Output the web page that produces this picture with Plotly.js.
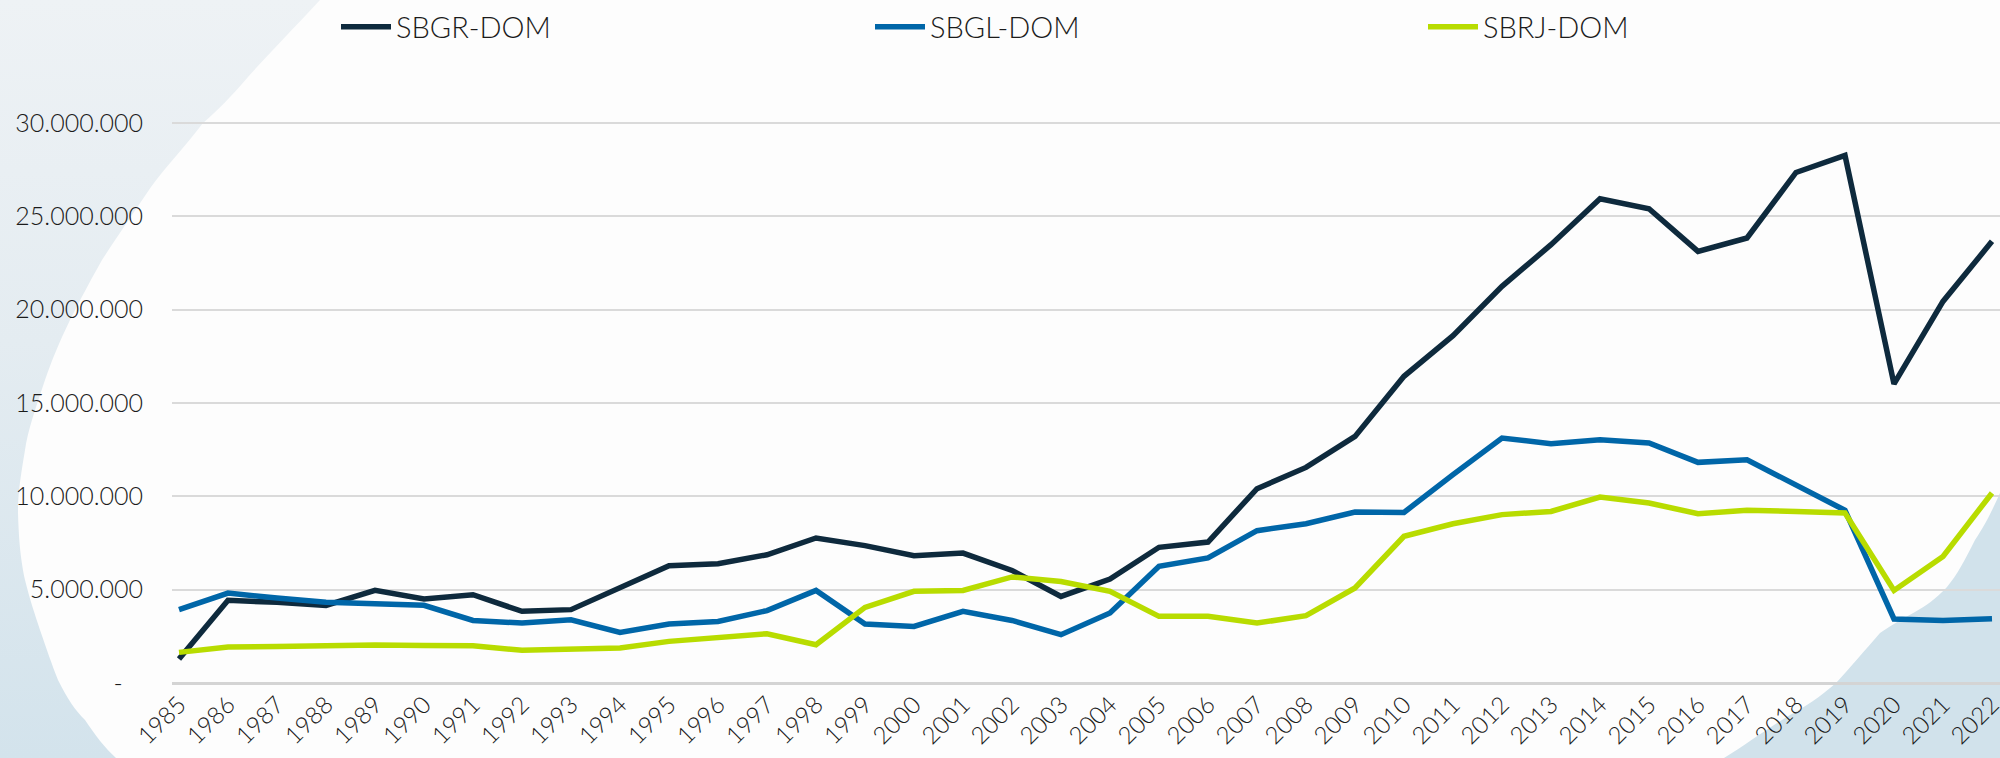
<!DOCTYPE html>
<html>
<head>
<meta charset="utf-8">
<script src="https://cdn.plot.ly/plotly-3.0.1.min.js"></script>
<style>
html,body{margin:0;padding:0;background:#fdfdfd;}
#chart{width:2000px;height:758px;}
</style>
</head>
<body>
<div id="chart"></div>
<script>
// ---- data ----
const years = [1985,1986,1987,1988,1989,1990,1991,1992,1993,1994,1995,1996,1997,1998,1999,2000,2001,2002,2003,2004,2005,2006,2007,2008,2009,2010,2011,2012,2013,2014,2015,2016,2017,2018,2019,2020,2021,2022];
const yearLabels = years.map(String);
const seriesNames = ['SBGR-DOM','SBGL-DOM','SBRJ-DOM'];
const sbgr = [1290000,4430000,4320000,4160000,4960000,4500000,4730000,3840000,3930000,5090000,6280000,6390000,6870000,7770000,7360000,6820000,6960000,6030000,4640000,5570000,7270000,7550000,10410000,11550000,13210000,16430000,18610000,21250000,23480000,25940000,25410000,23120000,23840000,27350000,28260000,16020000,20440000,23660000];
const sbgl = [3930000,4820000,4550000,4320000,4250000,4160000,3350000,3210000,3390000,2710000,3160000,3300000,3880000,4960000,3160000,3030000,3840000,3350000,2590000,3750000,6250000,6700000,8160000,8530000,9160000,9140000,11160000,13120000,12820000,13030000,12860000,11820000,11960000,10620000,9250000,3430000,3350000,3440000];
const sbrj = [1640000,1930000,1960000,2010000,2040000,2010000,2000000,1750000,1790000,1870000,2230000,2410000,2640000,2050000,4050000,4910000,4960000,5680000,5440000,4910000,3570000,3570000,3210000,3610000,5090000,7860000,8530000,9020000,9190000,9960000,9640000,9070000,9250000,9190000,9110000,4960000,6780000,10180000];
const yTickVals = [0,5000000,10000000,15000000,20000000,25000000,30000000];
const yTickText = ['-\u00a0\u00a0\u00a0','5.000.000','10.000.000','15.000.000','20.000.000','25.000.000','30.000.000'];
const colors = ['#0e2a3d','#0066a8','#b8dc00'];

// ---- background decoration (svg image) ----
const bgSvg = `<svg xmlns="http://www.w3.org/2000/svg" width="2000" height="758" viewBox="0 0 2000 758" preserveAspectRatio="none">
<defs><linearGradient id="g" x1="0" y1="0" x2="0" y2="1">
<stop offset="0" stop-color="#eef2f5"/><stop offset="0.45" stop-color="#e4ecf1"/><stop offset="1" stop-color="#d3e3ec"/></linearGradient></defs>
<path d="M0,0 L320,0 C292,30 265,58 248,77 C230,98 218,110 203,123 C184,148 167,165 151,187 C130,218 115,240 102,260 C88,285 80,300 70,320 C58,345 52,360 45,380 C35,410 28,430 25,450 C20,480 18,495 18,513 C19,545 21,560 25,580 C30,600 35,615 40,630 C47,650 52,665 58,680 C68,700 75,710 85,720 C95,735 105,748 116,758 L0,758 Z" fill="url(#g)"/>
<path d="M2000,493 C1990,515 1985,525 1975,540 C1965,560 1957,575 1947,587 C1935,600 1925,606 1915,612 C1900,620 1890,626 1880,633 C1865,650 1850,668 1836,683 C1820,697 1805,707 1790,715 C1765,730 1745,745 1724,758 L2000,758 Z" fill="#d1e2eb"/>
</svg>`;
const bgUri = 'data:image/svg+xml;charset=utf-8,' + encodeURIComponent(bgSvg);

const W = 2000, H = 758, ML = 172, MR = 0, MT = 100, MB = 75;
const pw = W - ML - MR, ph = H - MT - MB;
const legendIds = ['legend','legend2','legend3'];
const legendStartPx = [342, 876, 1429];

const traces = [sbgr, sbgl, sbrj].map((vals, i) => ({
  x: years, y: vals, name: seriesNames[i], type: 'scatter', mode: 'lines',
  line: {color: colors[i], width: 5.5, shape: 'linear'},
  legend: legendIds[i],
  hoverinfo: 'skip'
}));

const fam = 'Lato, "Open Sans", sans-serif';
const txtColor = '#1b1b1b';

const layout = {
  width: W, height: H,
  margin: {l: ML, r: MR, t: MT, b: MB, pad: 0},
  paper_bgcolor: '#fdfdfd',
  plot_bgcolor: 'rgba(0,0,0,0)',
  font: {family: fam, color: txtColor, size: 25},
  showlegend: true,
  xaxis: {
    type: 'linear', range: [1985 - 7/49, 2022 + 8/49],
    tickmode: 'array', tickvals: years, ticktext: yearLabels,
    tickangle: -45, showgrid: false, zeroline: false, showline: false,
    ticks: '', ticklabelstandoff: 2, ticklabelshift: 0, ticklabeloverflow: 'allow',
    tickfont: {family: fam, size: 24, color: txtColor, weight: 300}
  },
  yaxis: {
    range: [0, 30000000 * ph / 560],
    tickmode: 'array', tickvals: yTickVals, ticktext: yTickText,
    showgrid: true, gridcolor: '#dadada', gridwidth: 2,
    zeroline: true, zerolinecolor: '#d4d4d4', zerolinewidth: 3,
    showline: false, ticks: '', ticklabelstandoff: 28,
    tickfont: {family: fam, size: 25, color: txtColor, weight: 300}
  },
  images: [{
    source: bgUri, xref: 'paper', yref: 'paper',
    x: -ML / pw, y: 1 + MT / ph, sizex: W / pw, sizey: H / ph,
    xanchor: 'left', yanchor: 'top', sizing: 'stretch', layer: 'below'
  }]
};
legendIds.forEach((id, i) => {
  layout[id] = {
    orientation: 'h', xref: 'container', yref: 'container',
    x: (legendStartPx[i] - 6) / W, y: 1 - 27 / H, xanchor: 'left', yanchor: 'middle',
    itemwidth: 50, bgcolor: 'rgba(0,0,0,0)',
    font: {family: fam, size: 29, color: txtColor, weight: 300}
  };
});

Plotly.newPlot('chart', traces, layout, {staticPlot: true, displayModeBar: false});
</script>
</body>
</html>
